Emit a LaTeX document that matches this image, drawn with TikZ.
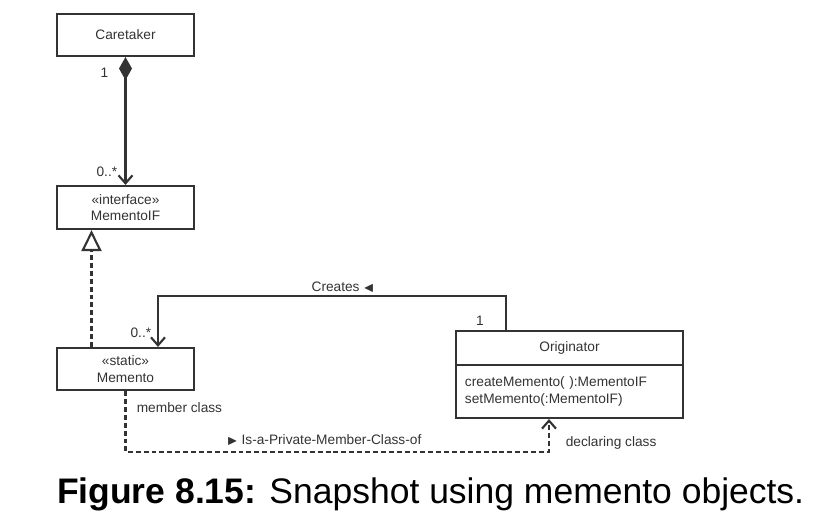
\documentclass[tikz,border=0pt]{standalone}
\usepackage{fontspec}
\setmainfont{Liberation Sans}
\usepackage{amssymb}
\usetikzlibrary{arrows.meta,positioning}

\begin{document}
\begin{tikzpicture}[x=0.2mm, y=-0.2mm, line width=1.2pt, draw=black!80,
  every node/.style={font=\fontsize{7.8}{9.5}\selectfont, text=black!80},
  cls/.style={draw, minimum width=2.74cm, minimum height=0.84cm, align=center, inner sep=1pt},
  lbl/.style={inner sep=1pt},
  dep/.style={dash pattern=on 2.8pt off 1.7pt},
  nav/.style={-{Straight Barb[length=0.16cm,width=0.28cm]}}]

\useasboundingbox (0,0) rectangle (826,532);

\node[cls] (caretaker) at (125.5,35) {Caretaker};
\node[cls, minimum height=0.86cm] (mementoif) at (125.5,207.5) {«interface»\\MementoIF};
\node[cls] (memento) at (125.5,369) {«static»\\Memento};
\node[cls, minimum width=4.54cm, minimum height=0.68cm] (orig) at (569.5,348) {Originator};
\node[cls, minimum width=4.54cm, minimum height=1.06cm, inner xsep=0.18cm, text width=4.18cm,
  align=left, below=-1.2pt of orig] (origops) {createMemento( ):MementoIF\\setMemento(:MementoIF)};

\coordinate (creates) at (330,296);
\coordinate (isa) at (330,452);

% composition
\draw[{Diamond[length=0.46cm,width=0.26cm]}-{Straight Barb[length=0.16cm,width=0.28cm]}]
  (caretaker) -- (mementoif);
\node[lbl, anchor=east] (onecare) at (111,73) {1};
\node[lbl, anchor=east] (manyif) at (120,172) {0..*};

% realization
\draw[dep, -{Triangle[open,length=0.42cm,width=0.4cm]}]
  ([xshift=-0.68cm]memento.north) -- ([xshift=-0.68cm]mementoif.south);

% creates
\draw[nav] ([xshift=-1.27cm]orig.north) |- (creates) -| ([xshift=0.65cm]memento.north);
\node[lbl] (createslbl) at (343,287) {Creates {\scriptsize$\blacktriangleleft$}};
\node[lbl] (oneorig) at (480,321) {1};
\node[lbl, anchor=east] (manymem) at (154,333) {0..*};

% member class
\draw[dep, nav] (memento.south) |- (isa) -| ([xshift=-0.41cm]origops.south);
\node[lbl, anchor=west] (memberlbl) at (134,408) {member class};
\node[lbl, anchor=west] (isalbl) at (224,440) {{\scriptsize$\blacktriangleright$} Is-a-Private-Member-Class-of};
\node[lbl, anchor=west] (decllbl) at (563,443) {declaring class};

\node[anchor=base west, inner sep=0pt, font=\fontsize{20.2}{24}\selectfont, text=black] (caption)
  at (56,504) {\textbf{Figure 8.15:} Snapshot using memento objects.};
\end{tikzpicture}
\end{document}
